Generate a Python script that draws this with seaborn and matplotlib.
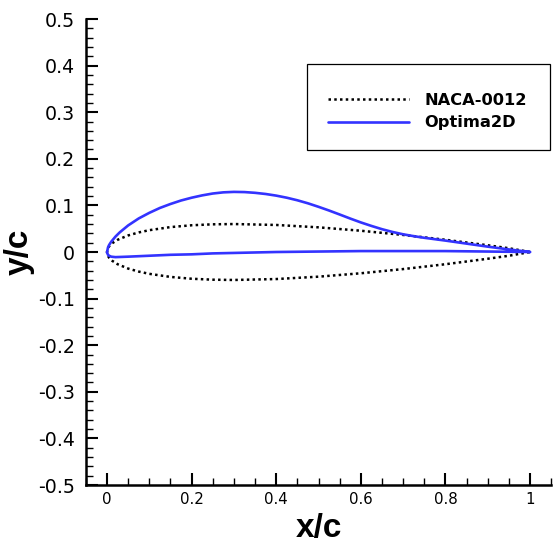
import matplotlib
matplotlib.use("Agg")
import matplotlib.pyplot as plt
from matplotlib.ticker import MultipleLocator, FuncFormatter
from matplotlib.font_manager import FontProperties
from matplotlib.patches import Rectangle
import pandas as pd
import seaborn as sns

# NACA-0012 half-thickness distribution (symmetric section)
naca_x = [0.0, 0.0025, 0.005, 0.0125, 0.025, 0.05, 0.075, 0.1, 0.15, 0.2,
          0.25, 0.3, 0.4, 0.5, 0.6, 0.7, 0.8, 0.9, 0.95, 1.0]
naca_y = [0.0, 0.0087, 0.0122, 0.01894, 0.02615, 0.03555, 0.042, 0.04683,
          0.05345, 0.05737, 0.05941, 0.06002, 0.05803, 0.05294, 0.04563,
          0.03664, 0.02623, 0.01448, 0.00807, 0.0]

# Optimized section: upper and lower surfaces, leading edge to trailing edge
opt_upper_x = [0.0, 0.0025, 0.005, 0.01, 0.02, 0.03, 0.05, 0.075, 0.1, 0.125,
               0.15, 0.175, 0.2, 0.225, 0.25, 0.275, 0.3, 0.325, 0.35, 0.375,
               0.4, 0.425, 0.45, 0.475, 0.5, 0.525, 0.55, 0.575, 0.6, 0.625,
               0.65, 0.675, 0.7, 0.725, 0.75, 0.8, 0.85, 0.9, 0.95, 1.0]
opt_upper_y = [-0.001, 0.010, 0.015, 0.022, 0.033, 0.042, 0.057, 0.072, 0.084,
               0.0945, 0.103, 0.1105, 0.1165, 0.1215, 0.1255, 0.128, 0.129,
               0.1286, 0.127, 0.1245, 0.121, 0.1165, 0.111, 0.1045, 0.097,
               0.089, 0.0805, 0.0718, 0.0635, 0.056, 0.049, 0.043, 0.038,
               0.034, 0.0305, 0.0245, 0.018, 0.0115, 0.0055, 0.0]
opt_lower_x = [0.0, 0.0025, 0.005, 0.01, 0.02, 0.05, 0.1, 0.15, 0.2, 0.25,
               0.3, 0.4, 0.5, 0.6, 0.7, 0.8, 0.9, 1.0]
opt_lower_y = [-0.001, -0.006, -0.008, -0.010, -0.011, -0.010, -0.008, -0.006,
               -0.005, -0.003, -0.002, 0.0, 0.001, 0.002, 0.002, 0.002, 0.001,
               0.0]

labels = ["NACA-0012", "Optima2D"]
x_ticks = [0, 0.2, 0.4, 0.6, 0.8, 1.0]
y_ticks = [-0.5, -0.4, -0.3, -0.2, -0.1, 0, 0.1, 0.2, 0.3, 0.4, 0.5]


def closed_contour(ux, uy, lx, ly):
    """Trailing edge -> upper surface -> leading edge -> lower surface -> trailing edge."""
    xs = list(reversed(ux)) + list(lx[1:])
    ys = list(reversed(uy)) + list(ly[1:])
    return pd.DataFrame({"x": xs, "y": ys})


naca_df = closed_contour(naca_x, naca_y, naca_x, [-v for v in naca_y])
opt_df = closed_contour(opt_upper_x, opt_upper_y, opt_lower_x, opt_lower_y)

sns.set_style("ticks")
plt.rcParams["font.family"] = ["DejaVu Sans"]
plt.rcParams["axes.unicode_minus"] = False
for key in ("text.color", "axes.labelcolor", "xtick.color", "ytick.color",
            "axes.edgecolor"):
    plt.rcParams[key] = "black"

fig = plt.figure(figsize=(5.53, 5.46), dpi=100)
ax = fig.add_axes([0.1552, 0.1117, 0.8415, 0.8535])

sns.lineplot(data=naca_df, x="x", y="y", sort=False, estimator=None, ax=ax,
             color="black", linewidth=1.8, linestyle=(0, (1, 1.3)),
             label=labels[0])
sns.lineplot(data=opt_df, x="x", y="y", sort=False, estimator=None, ax=ax,
             color="#3333ff", linewidth=1.9, label=labels[1])

ax.set_xlim(-0.05, 1.05)
ax.set_ylim(-0.5, 0.5)

fmt = FuncFormatter(lambda v, p: f"{v:g}")
ax.set_xticks(x_ticks)
ax.set_yticks(y_ticks)
ax.xaxis.set_major_formatter(fmt)
ax.yaxis.set_major_formatter(fmt)
ax.xaxis.set_minor_locator(MultipleLocator(0.05))
ax.yaxis.set_minor_locator(MultipleLocator(0.02))

ax.tick_params(which="major", direction="in", length=8.6, width=1.5,
               color="black", labelcolor="black")
ax.tick_params(which="minor", direction="in", length=5, width=1.0,
               color="black")
ax.tick_params(axis="y", which="major", labelsize=13.7, pad=8)
ax.tick_params(axis="x", which="major", labelsize=10.8, pad=5)

for side in ("top", "right"):
    ax.spines[side].set_visible(False)
for side in ("left", "bottom"):
    ax.spines[side].set_linewidth(1.8)
    ax.spines[side].set_color("black")

label_font = dict(family=["Liberation Sans", "DejaVu Sans"], weight="bold",
                  size=24, color="black")
ax.set_xlabel("x/c", labelpad=4.5, **label_font)
ax.set_ylabel("y/c", labelpad=2.5, **label_font)

# legend entries without their own frame, boxed by a plain rectangle
leg = ax.legend(loc="upper left", bbox_to_anchor=(328 / 553, 1 - 93 / 546),
                bbox_transform=fig.transFigure, borderaxespad=0,
                borderpad=0,
                prop=FontProperties(family="DejaVu Sans", weight="bold",
                                    size=11.7),
                handlelength=5.0, handletextpad=0.95,
                labelspacing=0.45, frameon=False)
for txt in leg.get_texts():
    txt.set_color("black")
fig.patches.append(Rectangle((307 / 553, 1 - 150 / 546), 243 / 553, 86 / 546,
                             transform=fig.transFigure, fill=False,
                             edgecolor="black", linewidth=0.9, zorder=5))

fig.savefig("out.png", dpi=100)
